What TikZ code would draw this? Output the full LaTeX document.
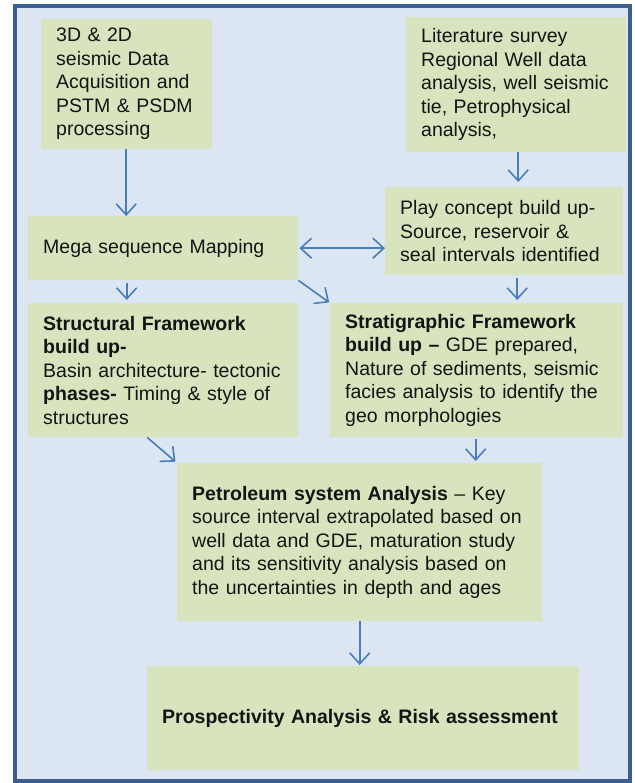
\documentclass[tikz,border=0pt]{standalone}
\usepackage{fontspec}
\setmainfont{Liberation Sans}
\usetikzlibrary{arrows.meta}
\definecolor{bgblue}{HTML}{DCE6F2}
\definecolor{boxgreen}{HTML}{D7E4BD}
\definecolor{framedark}{HTML}{3A5F8F}
\definecolor{arrowblue}{HTML}{4A7EBB}
\definecolor{txtcol}{HTML}{141414}
\begin{document}
\begin{tikzpicture}[x=1pt,y=-1pt,
  stepbox/.style={fill=boxgreen, draw=none, inner xsep=15pt, inner ysep=0pt,
    align=left, anchor=north west, text=txtcol,
    font=\fontsize{19.5}{23.5}\selectfont},
  flow/.style={draw=arrowblue, line width=1.6pt,
    -{Straight Barb[length=11pt,width=20pt]}},
  flowboth/.style={draw=arrowblue, line width=1.6pt,
    {Straight Barb[length=11pt,width=20pt]}-{Straight Barb[length=11pt,width=20pt]}},
]
\useasboundingbox (0,0) rectangle (634,783);
\fill[white] (0,0) rectangle (634,783);
\draw[framedark, line width=3.8pt, fill=bgblue] (15,6) rectangle (630,781);

\node[stepbox, text width=141pt, minimum height=130pt] (seis) at (41,19)
  {3D \& 2D\\seismic Data\\Acquisition and\\PSTM \& PSDM\\processing};
\node[stepbox, text width=190pt, minimum height=135pt] (lit) at (406,17)
  {Literature survey\\Regional Well data\\analysis, well seismic\\tie, Petrophysical\\analysis,};
\node[stepbox, text width=208pt, minimum height=88pt] (play) at (385,187)
  {Play concept build up-\\Source, reservoir \&\\seal intervals identified};
\node[stepbox, text width=240pt, minimum height=64pt] (mega) at (28,216)
  {Mega sequence Mapping};
\node[stepbox, text width=240pt, minimum height=134pt] (struct) at (28,303)
  {\textbf{Structural Framework}\\\textbf{build up-}\\Basin architecture- tectonic\\\textbf{phases-} Timing \& style of\\structures};
\node[stepbox, text width=263pt, minimum height=134pt] (strat) at (330,303)
  {\textbf{Stratigraphic Framework}\\\textbf{build up –} GDE prepared,\\Nature of sediments, seismic\\facies analysis to identify the\\geo morphologies};
\node[stepbox, text width=335pt, minimum height=158pt] (petro) at (177,463)
  {\textbf{Petroleum system Analysis} – Key\\source interval extrapolated based on\\well data and GDE, maturation study\\and its sensitivity analysis based on\\the uncertainties in depth and ages};
\node[stepbox, text width=402pt, minimum height=104pt] (prosp) at (147,666)
  {\textbf{Prospectivity Analysis \& Risk assessment}};

\draw[flow] ([xshift=-0.5pt]seis.south) -- ([xshift=-0.5pt]seis.south |- mega.north);
\draw[flow, shorten >=5pt] ([xshift=2pt]lit.south) -- ([xshift=2pt]lit.south |- play.north);
\draw[flowboth] ([xshift=1pt]mega.east) -- (play.west |- mega.east);
\draw[flow, shorten <=3pt, shorten >=3pt] (seis.south |- mega.south) -- (seis.south |- struct.north);
\draw[flow, shorten >=1pt] (mega.south east) -- (strat.north west);
\draw[flow, shorten <=3pt, shorten >=3pt] ([xshift=13pt]play.south) -- ([xshift=13pt]play.south |- strat.north);
\draw[flow, shorten >=2pt] ([xshift=-16pt]struct.south) -- (petro.north west);
\draw[flow, shorten <=2pt, shorten >=2pt] ([xshift=-1pt]strat.south) -- ([xshift=-1pt]strat.south |- petro.north);
\draw[flow, shorten >=1pt] (petro.south) -- (petro.south |- prosp.north);
\end{tikzpicture}
\end{document}
